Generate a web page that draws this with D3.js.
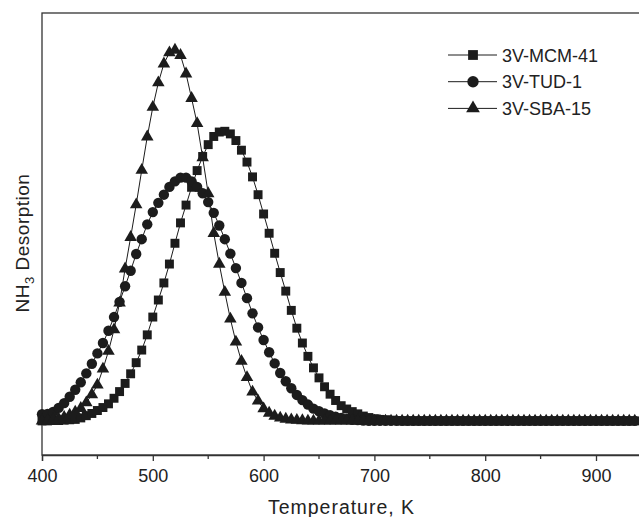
<!DOCTYPE html>
<html>
<head>
<meta charset="utf-8">
<script src="https://cdn.jsdelivr.net/npm/d3@7"></script>
<style>
  html, body { margin: 0; padding: 0; background: #fff; }
  svg { display: block; font-family: "Liberation Sans", Arial, sans-serif; }
</style>
</head>
<body>
<div id="chart"></div>
<script>
// Temperature grid (K)
const temps = [
  400, 405, 410, 415, 420, 425, 430, 435, 440, 445,
  450, 455, 460, 465, 470, 475, 480, 485, 490, 495,
  500, 505, 510, 515, 520, 525, 530, 535, 540, 545,
  550, 555, 560, 565, 570, 575, 580, 585, 590, 595,
  600, 605, 610, 615, 620, 625, 630, 635, 640, 645,
  650, 655, 660, 665, 670, 675, 680, 685, 690, 695,
  700, 705, 710, 715, 720, 725, 730, 735, 740, 745,
  750, 755, 760, 765, 770, 775, 780, 785, 790, 795,
  800, 805, 810, 815, 820, 825, 830, 835, 840, 845,
  850, 855, 860, 865, 870, 875, 880, 885, 890, 895,
  900, 905, 910, 915, 920, 925, 930, 935
];

// NH3 desorption signal (arb. units)
const mcm41 = [
  0, 0, 0.1, 0.1, 0.2, 0.3, 0.4, 0.8, 1.4, 2.0,
  2.8, 3.6, 4.6, 6.1, 7.9, 10.1, 12.7, 15.7, 19.1, 23.2,
  28.0, 32.6, 37.2, 42.3, 47.9, 53.4, 58.2, 63.0, 67.5, 71.3,
  74.5, 76.7, 77.9, 78.1, 77.4, 75.6, 73.0, 69.8, 65.8, 61.0,
  55.8, 50.6, 45.2, 40.0, 35.0, 29.8, 25.0, 21.0, 17.4, 14.3,
  11.6, 9.2, 7.2, 5.5, 4.1, 3.2, 2.5, 1.9, 1.3, 0.9,
  0.6, 0.4, 0.3, 0.2, 0.1, 0, 0, 0, 0, 0,
  0, 0, 0, 0, 0, 0, 0, 0, 0, 0,
  0, 0, 0, 0, 0, 0, 0, 0, 0, 0,
  0, 0, 0, 0, 0, 0, 0, 0, 0, 0,
  0, 0, 0, 0, 0, 0, 0, 0
];
const tud1 = [
  1.8, 1.9, 2.4, 3.5, 4.8, 6.5, 8.4, 10.4, 12.8, 15.4,
  18.2, 21.0, 24.3, 28.0, 32.1, 36.3, 40.5, 45.0, 49.0, 53.0,
  56.3, 58.8, 61.0, 63.1, 64.6, 65.6, 65.6, 64.6, 63.1, 61.4,
  59.0, 56.1, 52.7, 49.0, 45.1, 41.2, 37.2, 33.1, 29.0, 25.2,
  21.8, 18.5, 15.5, 12.9, 10.7, 8.8, 7.0, 5.6, 4.4, 3.3,
  2.6, 2.0, 1.5, 1.1, 0.8, 0.5, 0.3, 0.2, 0.1, 0,
  0, 0, 0, 0, 0, 0, 0, 0, 0, 0,
  0, 0, 0, 0, 0, 0, 0, 0, 0, 0,
  0, 0, 0, 0, 0, 0, 0, 0, 0, 0,
  0, 0, 0, 0, 0, 0, 0, 0, 0, 0,
  0, 0, 0, 0, 0, 0, 0, 0
];
const sba15 = [
  0, 0.1, 0.3, 0.6, 1.0, 1.6, 2.4, 3.4, 4.9, 7.1,
  9.7, 14.0, 18.8, 24.6, 31.8, 41.0, 49.5, 58.3, 67.6, 76.6,
  84.6, 91.2, 96.3, 99.3, 100, 98.6, 93.6, 87.0, 80.2, 71.0,
  61.3, 50.6, 42.3, 34.7, 27.5, 21.3, 16.1, 11.7, 7.8, 5.4,
  3.3, 2.1, 1.3, 0.8, 0.5, 0.3, 0.2, 0.1, 0, 0,
  0, 0, 0, 0, 0, 0, 0, 0, 0, 0,
  0, 0, 0, 0, 0, 0, 0, 0, 0, 0,
  0, 0, 0, 0, 0, 0, 0, 0, 0, 0,
  0, 0, 0, 0, 0, 0, 0, 0, 0, 0,
  0, 0, 0, 0, 0, 0, 0, 0, 0, 0,
  0, 0, 0, 0, 0, 0, 0, 0
];

const seriesNames = ["3V-MCM-41", "3V-TUD-1", "3V-SBA-15"];
const seriesSymbols = [d3.symbolSquare, d3.symbolCircle, d3.symbolTriangle];
const seriesValues = [mcm41, tud1, sba15];

const majorTicks = [400, 500, 600, 700, 800, 900];
const minorTicks = [450, 550, 650, 750, 850, 950];

const xTitle = "Temperature, K";

// Dimensions
const W = 639, H = 517;
const margin = { left: 42, top: 13, bottom: 62 };

const svg = d3.select("#chart")
    .append("svg")
    .attr("width", W)
    .attr("height", H);

const x = d3.scaleLinear().domain([400, 950]).range([margin.left, 651.4]);
const y = d3.scaleLinear().domain([-9.2, 110]).range([H - margin.bottom, margin.top]);

const ink = "#1c1c1c";

// Frame (right side falls outside the window, as in the picture)
svg.append("rect")
    .attr("x", x(400)).attr("y", y(110))
    .attr("width", x(950) - x(400))
    .attr("height", y(-9.2) - y(110))
    .attr("fill", "none")
    .attr("stroke", "#333")
    .attr("stroke-width", 1.3);

// X axis
const xAxis = svg.append("g")
    .attr("transform", `translate(0, ${y(-9.2)})`)
    .call(d3.axisBottom(x).tickValues(majorTicks).tickSize(6).tickPadding(8).tickFormat(d3.format("d")));
xAxis.select(".domain").attr("stroke", "#333").attr("stroke-width", 1.3);
xAxis.selectAll(".tick line").attr("stroke", "#333").attr("stroke-width", 1.3);
xAxis.selectAll(".tick text")
    .attr("fill", "#222")
    .style("font-size", "18px")
    .style("font-family", "'Liberation Sans', Arial, sans-serif");

svg.append("g")
    .attr("transform", `translate(0, ${y(-9.2)})`)
    .selectAll("line")
    .data(minorTicks)
    .join("line")
    .attr("x1", d => x(d)).attr("x2", d => x(d))
    .attr("y1", 0).attr("y2", 4)
    .attr("stroke", "#333").attr("stroke-width", 1.3);

// Axis titles
svg.append("text")
    .attr("x", 341).attr("y", 514)
    .attr("text-anchor", "middle")
    .attr("fill", "#222")
    .attr("textLength", 146)
    .attr("lengthAdjust", "spacing")
    .style("font-size", "19.5px")
    .text(xTitle);

const yt = svg.append("text")
    .attr("transform", "translate(29, 243) rotate(-90)")
    .attr("text-anchor", "middle")
    .attr("fill", "#222")
    .style("font-size", "19px")
    .style("letter-spacing", "0.5px");
yt.append("tspan").text("NH");
yt.append("tspan").attr("dy", 5).style("font-size", "13px").text("3");
yt.append("tspan").attr("dy", -5).text(" Desorption");

// Curves
const line = d3.line()
    .x((d, i) => x(temps[i]))
    .y(d => y(d));

const symbolSizes = [80, 85, 68];

seriesValues.forEach((vals, k) => {
    const g = svg.append("g");
    g.append("path")
        .datum(vals)
        .attr("d", line)
        .attr("fill", "none")
        .attr("stroke", ink)
        .attr("stroke-width", 1);
    g.selectAll("path.pt")
        .data(vals)
        .join("path")
        .attr("class", "pt")
        .attr("transform", (d, i) => `translate(${x(temps[i])}, ${y(d)})`)
        .attr("d", d3.symbol().type(seriesSymbols[k]).size(symbolSizes[k]))
        .attr("fill", ink);
});

// Legend
const legend = svg.append("g").attr("transform", "translate(448, 55)");
seriesNames.forEach((name, k) => {
    const row = legend.append("g").attr("transform", `translate(0, ${k * 26.7})`);
    row.append("line")
        .attr("x1", 0).attr("x2", 49)
        .attr("y1", 0).attr("y2", 0)
        .attr("stroke", ink).attr("stroke-width", 1);
    row.append("path")
        .attr("transform", "translate(25, 0)")
        .attr("d", d3.symbol().type(seriesSymbols[k]).size(symbolSizes[k] * 1.2))
        .attr("fill", ink);
    row.append("text")
        .attr("x", 54).attr("y", 6.5)
        .attr("fill", "#222")
        .style("font-size", "18px")
        .text(name);
});
</script>
</body>
</html>
